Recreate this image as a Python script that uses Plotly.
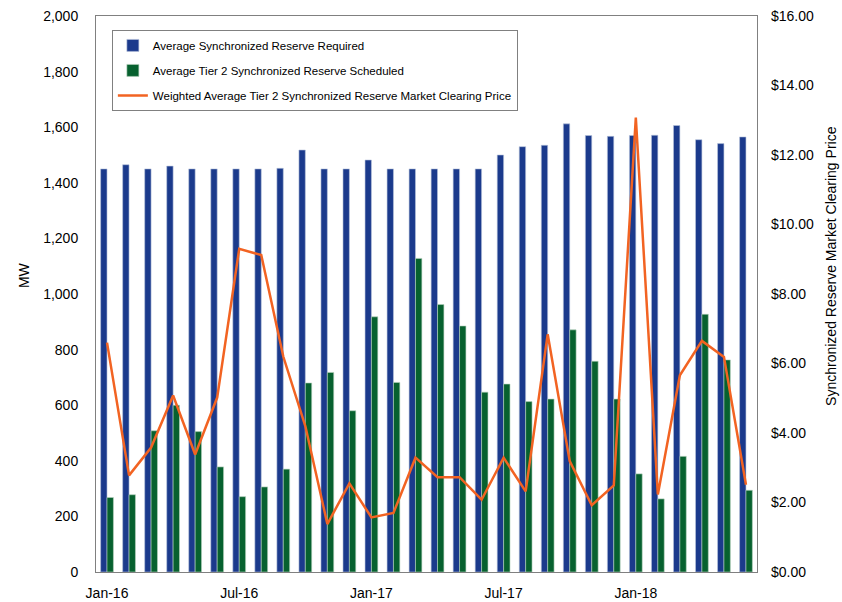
import plotly.graph_objects as go

months = ["Jan-16","Feb-16","Mar-16","Apr-16","May-16","Jun-16","Jul-16","Aug-16","Sep-16","Oct-16","Nov-16","Dec-16",
          "Jan-17","Feb-17","Mar-17","Apr-17","May-17","Jun-17","Jul-17","Aug-17","Sep-17","Oct-17","Nov-17","Dec-17",
          "Jan-18","Feb-18","Mar-18","Apr-18","May-18","Jun-18"]

required = [1450,1465,1450,1460,1450,1450,1450,1450,1452,1518,1450,1450,
            1482,1450,1450,1450,1450,1450,1500,1530,1535,1612,1570,1567,
            1570,1571,1606,1555,1541,1565]

scheduled = [268,278,508,600,505,378,271,306,370,680,718,580,
             918,682,1128,962,885,647,676,613,622,871,758,622,
             353,263,416,927,763,294]

price = [6.60,2.78,3.58,5.08,3.38,5.02,9.30,9.12,6.20,4.20,1.38,2.55,
         1.57,1.70,3.29,2.73,2.73,2.08,3.29,2.32,6.84,3.19,1.92,2.49,
         13.08,2.23,5.66,6.65,6.19,2.51]

tick_labels = ["Jan-16","Jul-16","Jan-17","Jul-17","Jan-18"]

FONT = "Liberation Sans, Arial, sans-serif"

fig = go.Figure()
fig.add_trace(go.Bar(x=months, y=required, name="Average Synchronized Reserve Required",
                     legendgroup="a",
                     marker=dict(color="#1B3A8C", line=dict(width=0.6, color="#b8c4dc"))))
fig.add_trace(go.Bar(x=months, y=scheduled, name="Average Tier 2 Synchronized Reserve Scheduled",
                     legendgroup="b",
                     marker=dict(color="#07612F", line=dict(width=0.6, color="#b8d4c0"))))
fig.add_trace(go.Scatter(x=months, y=price, name="Weighted Average Tier 2 Synchronized Reserve Market Clearing Price",
                         legendgroup="c",
                         mode="lines", line=dict(color="#F26322", width=2.5), yaxis="y2"))

fig.update_layout(
    width=842, height=602,
    margin=dict(l=96, r=85, t=16, b=30),
    paper_bgcolor="white", plot_bgcolor="white",
    font=dict(family=FONT, size=14, color="black"),
    barmode="group", bargap=0.42, bargroupgap=0,
    showlegend=True,
    legend=dict(x=0.024, y=0.975, xanchor="left", yanchor="top",
                bgcolor="white", bordercolor="#808080", borderwidth=1,
                traceorder="grouped", tracegroupgap=6,
                font=dict(family=FONT, size=11.5), itemwidth=30),
    xaxis=dict(type="category", categoryorder="array", categoryarray=months,
               tickmode="array", tickvals=tick_labels, ticktext=tick_labels,
               showline=True, linecolor="#808080", linewidth=1, mirror=True,
               ticks="", showgrid=False, tickfont=dict(size=14), automargin=False,
               ticklabelstandoff=8, ticklabeloverflow="allow"),
    yaxis=dict(range=[0, 2000], dtick=200, tickformat=",d",
               showline=True, linecolor="#808080", linewidth=1, mirror=True,
               ticks="", showgrid=False, zeroline=False, automargin=False,
               ticklabelstandoff=14, tickfont=dict(size=14), ticklabeloverflow="allow"),
    yaxis2=dict(range=[0, 16], dtick=2, tickformat=".2f", tickprefix="$",
                overlaying="y", side="right", showgrid=False, zeroline=False,
                showline=False, ticks="", ticklabelstandoff=13, automargin=False,
                tickfont=dict(size=14), ticklabeloverflow="allow"),
    annotations=[
        dict(text="MW", xref="paper", yref="paper", x=-0.109, y=0.534,
             textangle=-90, showarrow=False, font=dict(size=14),
             xanchor="center", yanchor="middle"),
        dict(text="Synchronized Reserve Market Clearing Price", xref="paper", yref="paper",
             x=1.113, y=0.55, textangle=-90, showarrow=False, font=dict(size=14),
             xanchor="center", yanchor="middle"),
    ],
)

fig.write_html("out.html", config={"displayModeBar": False},
               post_script="document.body.style.margin='0';document.body.style.overflow='hidden';")
